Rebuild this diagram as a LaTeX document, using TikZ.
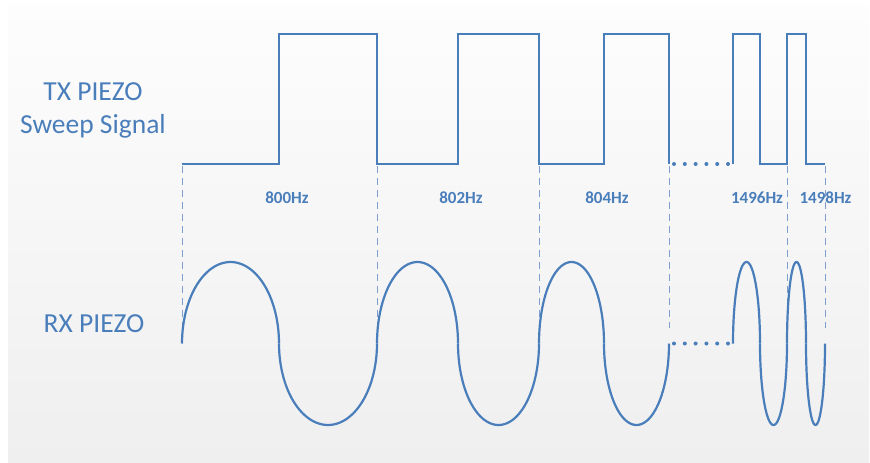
\documentclass[tikz,border=0pt]{standalone}
\usepackage{fontspec}
\setmainfont{Carlito}
\definecolor{wave}{HTML}{4A7EBB}
\definecolor{guide}{HTML}{7E9FCB}
\definecolor{bgtop}{HTML}{FDFDFD}
\definecolor{bgbot}{HTML}{EFEFEF}
\begin{document}
\begin{tikzpicture}[x=1pt,y=-1pt,
  sq/.style={wave, line width=2pt, line join=miter},
  rx/.style={wave, line width=2.2pt},
  guideline/.style={guide, line width=0.9pt, dash pattern=on 7pt off 5pt},
  gap/.style={wave, line width=4pt, line cap=round, dash pattern=on 0pt off 10.8pt},
  title/.style={text=wave, font=\fontsize{27.5}{32}\selectfont, anchor=base, inner sep=0pt},
  freq/.style={text=wave, font=\bfseries\fontsize{17}{20}\selectfont, anchor=base, inner sep=0pt}]

\useasboundingbox (0,0) rectangle (870,463);
\fill[white] (0,0) rectangle (870,463);
\shade[top color=bgtop, bottom color=bgbot] (8,5) rectangle (869,463);

% guide lines marking each period
\foreach \gx in {182,377,539,669,787,825}
  \draw[guideline] (\gx,166) -- (\gx,328);

% transmitted square sweep
\draw[sq] (182,164) -- (279,164) -- (279,34) -- (377,34) -- (377,164)
  -- (458,164) -- (458,34) -- (539,34) -- (539,164)
  -- (604,164) -- (604,34) -- (669,34) -- (669,164);
\draw[gap] (674,164) -- (729,164);
\draw[sq] (733,164) -- (733,34) -- (760,34) -- (760,164)
  -- (787,164) -- (787,34) -- (806,34) -- (806,164) -- (825,164);

% received wave: half-ellipse lobes, up (+1) and down (-1)
\foreach \a/\b/\s in {182/279/1, 279/377/-1, 377/458/1, 458/539/-1,
                      539/604/1, 604/669/-1, 733/760/1, 760/787/-1,
                      787/806/1, 806/825/-1}
  \draw[rx] plot[variable=\t, domain=180:0, samples=60, smooth]
    ({(\a+\b)/2 + (\b-\a)/2*cos(\t)}, {343.5 - \s*81.5*sin(\t)});
\draw[gap] (674,343.5) -- (729,343.5);

% labels
\node[title] (tx1) at (93,100) {TX PIEZO};
\node[title] (tx2) at (93,133) {Sweep Signal};
\node[title] (rxl) at (94,332) {RX PIEZO};
\node[freq] (f800) at (287,203) {800Hz};
\node[freq] (f802) at (461,203) {802Hz};
\node[freq] (f804) at (607,203) {804Hz};
\node[freq] (f1496) at (757,203) {1496Hz};
\node[freq] (f1498) at (825.5,203) {1498Hz};
\end{tikzpicture}
\end{document}
